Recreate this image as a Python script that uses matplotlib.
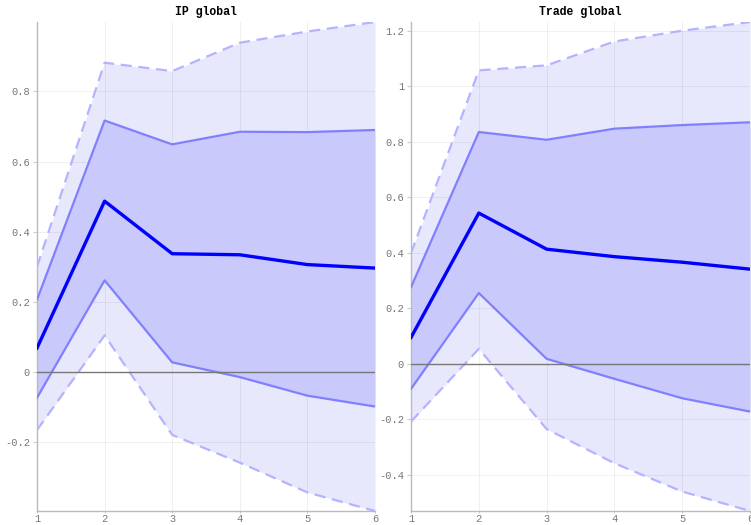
import matplotlib
matplotlib.use("Agg")
import matplotlib.pyplot as plt
import numpy as np

horizons = [1, 2, 3, 4, 5, 6]

ip_median = [0.068, 0.487, 0.337, 0.334, 0.306, 0.296]
ip_up68 = [0.206, 0.717, 0.649, 0.685, 0.684, 0.690]
ip_lo68 = [-0.074, 0.261, 0.027, -0.015, -0.068, -0.099]
ip_up90 = [0.300, 0.882, 0.858, 0.939, 0.971, 0.998]
ip_lo90 = [-0.166, 0.104, -0.180, -0.259, -0.344, -0.397]

tr_median = [0.095, 0.543, 0.413, 0.386, 0.366, 0.341]
tr_up68 = [0.276, 0.835, 0.807, 0.847, 0.860, 0.870]
tr_lo68 = [-0.090, 0.255, 0.018, -0.054, -0.124, -0.172]
tr_up90 = [0.399, 1.057, 1.075, 1.161, 1.200, 1.231]
tr_lo90 = [-0.208, 0.054, -0.235, -0.358, -0.460, -0.530]

titles = ["IP global", "Trade global"]
ip_yticks = [-0.2, 0, 0.2, 0.4, 0.6, 0.8]
ip_yticklabels = ["-0.2", "0", "0.2", "0.4", "0.6", "0.8"]
tr_yticks = [-0.4, -0.2, 0, 0.2, 0.4, 0.6, 0.8, 1.0, 1.2]
tr_yticklabels = ["-0.4", "-0.2", "0", "0.2", "0.4", "0.6", "0.8", "1", "1.2"]

fig = plt.figure(figsize=(7.51, 5.25), dpi=100)
rects = [[0.0493, 0.0267, 0.4500, 0.9313], [0.5473, 0.0267, 0.4514, 0.9313]]
panels = [
    (ip_median, ip_up68, ip_lo68, ip_up90, ip_lo90, ip_yticks, ip_yticklabels),
    (tr_median, tr_up68, tr_lo68, tr_up90, tr_lo90, tr_yticks, tr_yticklabels),
]

mono = ["Liberation Mono", "DejaVu Sans Mono"]
for rect, title, (med, u68, l68, u90, l90, yt, ytl) in zip(rects, titles, panels):
    ax = fig.add_axes(rect)
    x = np.array(horizons)
    ax.fill_between(x, l90, u90, color="#e8e8fd", linewidth=0, zorder=1)
    ax.fill_between(x, l68, u68, color="#c9c9fb", linewidth=0, zorder=2)
    ax.plot(x, u90, color="#b3b3ff", lw=1.6, ls=(0, (5, 3)), zorder=3)
    ax.plot(x, l90, color="#b3b3ff", lw=1.6, ls=(0, (5, 3)), zorder=3)
    ax.plot(x, u68, color="#8080ff", lw=1.6, zorder=4)
    ax.plot(x, l68, color="#8080ff", lw=1.6, zorder=4)
    ax.axhline(0, color="#777777", lw=1.0, zorder=5)
    ax.plot(x, med, color="#0000ff", lw=2.4, zorder=6)
    ax.set_xlim(1, 6)
    ax.set_ylim(min(l90), max(u90))
    ax.set_xticks(horizons)
    ax.set_xticklabels([str(h) for h in horizons])
    ax.set_yticks(yt)
    ax.set_yticklabels(ytl)
    ax.grid(True, color="black", alpha=0.06, lw=0.7, zorder=2.5)
    for s in ["top", "right"]:
        ax.spines[s].set_visible(False)
    for s in ["left", "bottom"]:
        ax.spines[s].set_color("#bbbbbb")
        ax.spines[s].set_linewidth(1.0)
    ax.tick_params(axis="y", colors="#cccccc", labelcolor="#777777", length=3,
                   width=0.8, labelsize=7.5, pad=2)
    ax.tick_params(axis="x", colors="#cccccc", labelcolor="#777777", length=1.5,
                   width=0.8, labelsize=7.5, pad=1)
    for lab in ax.get_xticklabels() + ax.get_yticklabels():
        lab.set_family(mono)
    ax.set_title(title, fontsize=8.3, fontweight="bold", family=mono, pad=5)

fig.savefig("out.png", dpi=100)
